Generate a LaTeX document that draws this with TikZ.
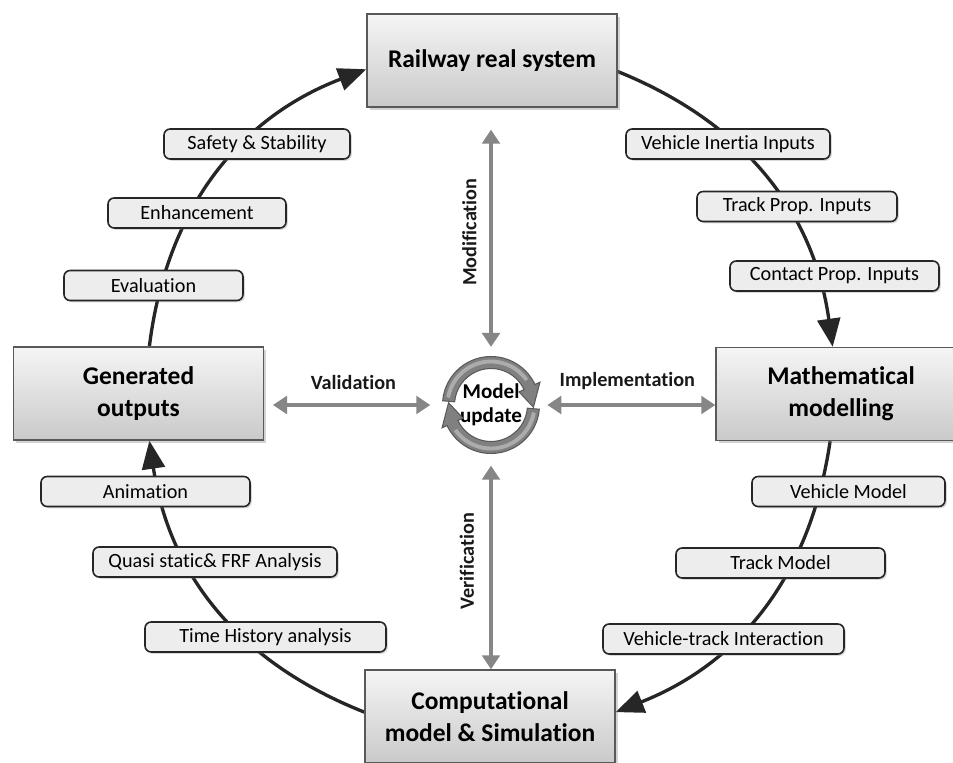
\documentclass[tikz,border=0pt]{standalone}
\usepackage{fontspec}
\setmainfont{Carlito}[Ligatures={NoCommon,NoRequired,NoContextual}, Contextuals=NoAlternate]
\usepackage{tikz}
\usetikzlibrary{positioning,arrows.meta,shadows,backgrounds,calc}
\tikzset{
bigbox/.style={draw=gray!70!black, line width=0.8pt, top color=gray!8, bottom color=gray!42, minimum width=5cm, minimum height=1.86cm, align=center, font=\fontsize{14.5}{18}\selectfont\bfseries, drop shadow={shadow xshift=1.5pt, shadow yshift=-1.5pt, opacity=0.35}},
tag/.style={draw=black!85, line width=0.9pt, rounded corners=3.5pt, fill=gray!14, minimum height=0.6cm, minimum width=#1*0.02cm, inner sep=0pt, font=\fontsize{11.5}{13}\selectfont, drop shadow={shadow xshift=1pt, shadow yshift=-1pt, opacity=0.3}},
cyc/.style={line width=1.9pt, draw=black!85, -{Triangle[length=16pt,width=13pt]}},
dbl/.style={line width=2.8pt, draw=gray!95, {Triangle[length=8pt,width=10pt]}-{Triangle[length=8pt,width=10pt]}},
dbllabel/.style={font=\fontsize{11.5}{13}\selectfont\bfseries, text=black!90},
ringfill/.style={fill=black!50, draw=black!65, line width=0.6pt},
ringshine/.style={draw=white, opacity=0.35, line width=2.2pt}
}
\begin{document}
\begin{tikzpicture}[x=0.02cm, y=-0.02cm]
\useasboundingbox (0,0) rectangle (953,763);
\node[bigbox] (rail) at (492,60.5) {Railway real system};
\node[bigbox] (math) at (841,394) {Mathematical\\modelling};
\node[bigbox] (comp) at (490,716.5) {Computational\\model \& Simulation};
\node[bigbox] (gen) at (138.5,393.5) {Generated\\outputs};
\node[circle, minimum size=1.92cm, inner sep=0pt, align=center, font=\fontsize{12}{13.5}\selectfont\bfseries] (upd) at (491,405) {Model\\update};

\node[tag=204] (vii) at (728,144) {Vehicle Inertia Inputs};
\node[tag=200] (tpi) at (797,206.5) {Track Prop. Inputs};
\node[tag=209] (cpi) at (834.5,276) {Contact Prop. Inputs};
\node[tag=186] (saf) at (257,144) {Safety \& Stability};
\node[tag=178] (enh) at (197,213) {Enhancement};
\node[tag=179] (eva) at (153.5,285.5) {Evaluation};
\node[tag=209] (ani) at (145.5,491.5) {Animation};
\node[tag=244] (qsa) at (215,562) {Quasi static\& FRF Analysis};
\node[tag=241] (tha) at (265.5,637) {Time History analysis};
\node[tag=193] (vmo) at (848.5,491.5) {Vehicle Model};
\node[tag=209] (tmo) at (780.5,563) {Track Model};
\node[tag=241] (vti) at (723.5,639) {Vehicle-track Interaction};

\begin{pgfonlayer}{background}
\draw[cyc] (rail.-5) to[bend left=30] (math.100);
\draw[cyc] (math.-103) to[bend left=30] (comp.2);
\draw[cyc] (comp.178) to[bend left=30] (gen.-77);
\draw[cyc] (gen.77) to[bend left=31] (rail.184);
\end{pgfonlayer}

\draw[dbl, shorten <=5.5pt, shorten >=12.5pt] (upd.north) -- node[sloped, above=3.5pt, dbllabel] {Modification} (upd.north |- rail.south);
\draw[dbl, shorten >=7pt] (upd.south |- comp.north) -- node[sloped, above=5pt, dbllabel] {Verification} (upd.south);
\draw[dbl, shorten <=5pt, shorten >=7pt] (gen.east |- upd) -- node[above=4pt, dbllabel] {Validation} (upd.west);
\draw[dbl, shorten <=4.5pt] (upd.east) -- node[above=4pt, dbllabel] {Implementation} (math.west |- upd);

\begin{scope}[shift={(upd.center)}]
\filldraw[ringfill] (175:0.97cm) arc[start angle=175, end angle=25, radius=0.97cm] -- (25:1.08cm) -- (-3:0.85cm) -- (25:0.62cm) -- (25:0.73cm) arc[start angle=25, end angle=175, radius=0.73cm] -- cycle;
\filldraw[ringfill] (-5:0.97cm) arc[start angle=-5, end angle=-155, radius=0.97cm] -- (-155:1.08cm) -- (-183:0.85cm) -- (-155:0.62cm) -- (-155:0.73cm) arc[start angle=-155, end angle=-5, radius=0.73cm] -- cycle;
\draw[ringshine] (170:0.87cm) arc[start angle=170, end angle=35, radius=0.87cm];
\draw[ringshine] (-10:0.87cm) arc[start angle=-10, end angle=-145, radius=0.87cm];
\end{scope}
\end{tikzpicture}
\end{document}
